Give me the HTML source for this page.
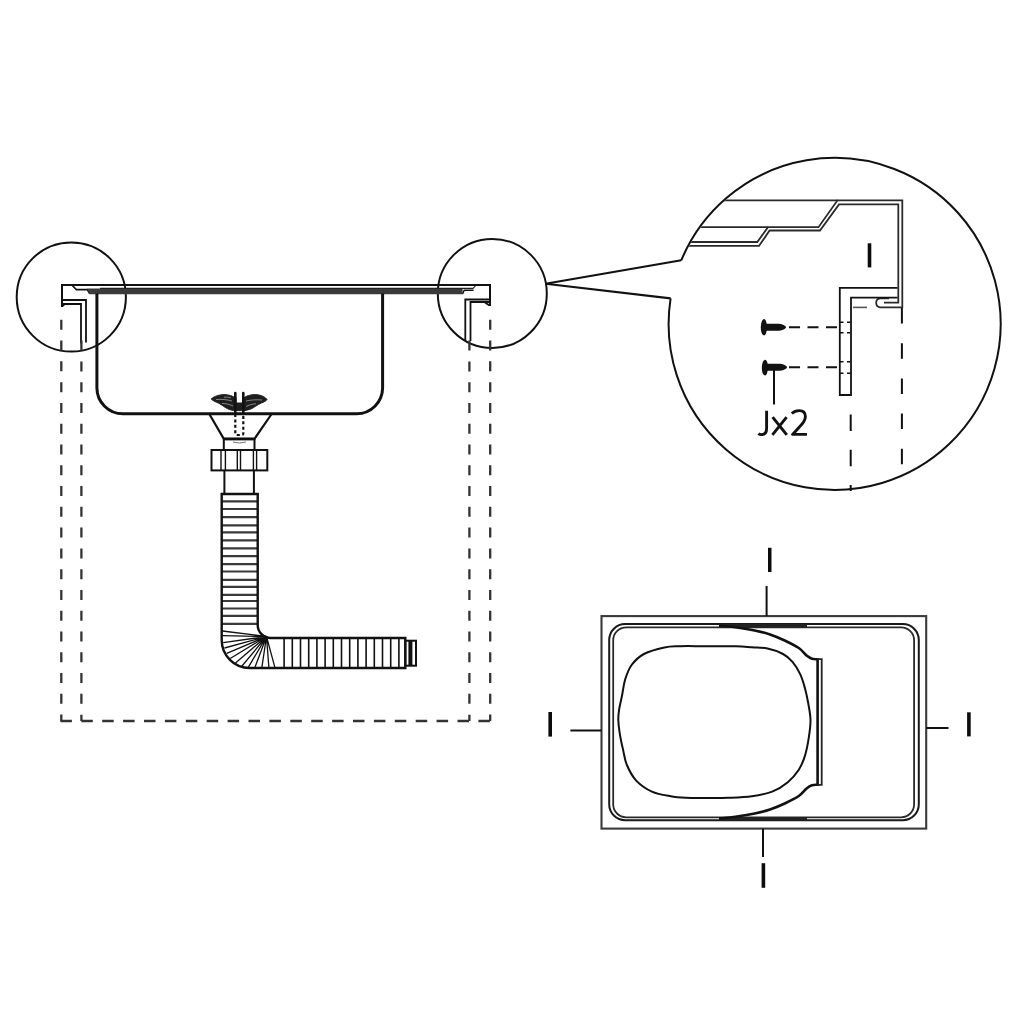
<!DOCTYPE html>
<html><head><meta charset="utf-8"><title>Sink diagram</title>
<style>
html,body{margin:0;padding:0;background:#fff;width:1024px;height:1024px;overflow:hidden}
svg{display:block}
text{font-family:"Liberation Sans",sans-serif}
</style></head>
<body>
<svg width="1024" height="1024" viewBox="0 0 1024 1024">
<defs>
<clipPath id="bigc"><circle cx="834.7" cy="323.6" r="165"/></clipPath>
</defs>
<rect width="1024" height="1024" fill="#fff"/>
<g fill="none" stroke="#111" stroke-width="2" stroke-linecap="butt" stroke-linejoin="miter">

<!-- ===== Cross-section (left) ===== -->
<circle cx="71.3" cy="297" r="54.6" stroke-width="2"/>
<circle cx="492.3" cy="293.4" r="54.5" stroke-width="2"/>

<!-- top rim -->
<path d="M62 307 V285 H490 V306"/>
<path d="M62.5 306 L65 303.8 M489.5 305.5 L485 302.5" stroke-width="1.8"/>
<path d="M63 300 H86 V342.5 M81 343.5 V304 H63" stroke-width="1.8"/>
<path d="M489 299.5 H465.3 V341 M470.5 341 V302 H489" stroke-width="1.8"/>
<path d="M72.3 285.5 L76.4 289.6 H87.3 L89.4 293.2 H96.9" stroke-width="1.6"/>
<path d="M87.3 288.6 H462.6 V294.3 H89.4 Z" fill="#3a3a3a" stroke="none"/>
<path d="M100 288.4 H473 L475.5 285.8" stroke-width="1.1" stroke="#222"/>
<path d="M462.6 294 L464.2 290.3 H473.5" stroke-width="1.4"/>
<!-- sink body -->
<path d="M96.9 293.5 V388 A26 26 0 0 0 122.9 413.8 H356.6 A26 26 0 0 0 382.6 388 V293.5" stroke-width="3"/>

<!-- dashed cabinet -->
<g stroke-width="2.3" stroke="#333" stroke-dasharray="10 10.78">
<path d="M61.3 319.8 V721"/>
<path d="M81.4 340.6 V721"/>
<path d="M469.4 340.6 V721"/>
<path d="M490.2 319.8 V721"/>
<path d="M60.4 721 H491" stroke-dasharray="11.5 9.4"/>
</g>

<!-- drain strainer -->
<path d="M211.2 399 C213 397 218 395 222.1 394.7 C226 394.4 230 395 233 396.5 L235 398 H244 L246 396.5 C249 395 253 394.4 257 394.7 C261 395 265 397 267.2 399.5 C266 401 264 402 261.7 402.8 C257 405 254 407.5 251.5 408.7 C248 410 245.5 410.6 243.3 410.6 H235.8 C233 410.6 230 410 227.6 408.7 C225 407.5 222 405 218.7 403.2 C216 402 213 401 211.2 399 Z" fill="#1e1e1e" stroke="#1e1e1e" stroke-width="1"/>
<path d="M216 399.6 C221 399 227 399.5 232 401 M222 403.5 C226 403.5 230 404.5 233 406 M262 400 C257 399.5 251 399.8 246 401 M256 403.8 C252 404 249 405 246 406.5 M224 397.2 C227 397 229 397.3 231 398" stroke="#fff" stroke-width="0.9" opacity="0.5"/>
<rect x="236.6" y="393" width="5.4" height="9.5" fill="#fff" stroke="none"/>
<path d="M235.3 393 V414 M243.3 393 V414" stroke-width="2.6" stroke-linecap="round"/>
<path d="M235.3 414 V433.5 Q235.3 435 237 435 H241.6 Q243.3 435 243.3 433.5 V414" stroke-width="2.2" stroke-dasharray="3 2.4"/>
<!-- funnel / nut -->
<path d="M209.3 414 L223.8 438.8 H254.5 L271.6 414" stroke-width="2.2"/>
<path d="M223.8 439 H254.5" stroke-width="2.8"/>
<path d="M233 442 Q239 444 246 442" stroke="#777" stroke-width="1"/>
<path d="M223.8 438.8 V450 M254.5 438.8 V450" stroke-width="2"/>
<rect x="211.5" y="450" width="55.8" height="20.4" stroke-width="2"/>
<path d="M221 450 V470.4 M225.4 450 V470.4 M237.3 450 V470.4 M240.5 450 V470.4 M253.4 450 V470.4 M256.6 450 V470.4" stroke-width="1.4"/>
<path d="M224.4 470.4 V494 M253.9 470.4 V494" stroke-width="2"/>

<!-- hose -->
<path d="M222 501.4H257.7 M222 509.0H257.7 M222 517.2H257.7 M222 525.4H257.7 M222 532.4H257.7 M222 540.3H257.7 M222 548.3H257.7 M222 556.2H257.7 M222 564.1H257.7 M222 571.5H257.7 M222 579.8H257.7 M222 586.9H257.7 M222 594.9H257.7 M222 601.0H257.7 M222 608.5H257.7 M222 615.9H257.7 M222 623.8H257.7" stroke-width="2.2" stroke="#3a3a3a"/>
<path d="M284.1 638V668 M292.3 638V668 M300.5 638V668 M308.7 638V668 M316.9 638V668 M325.1 638V668 M333.3 638V668 M341.5 638V668 M349.7 638V668 M357.9 638V668 M366.1 638V668 M374.3 638V668 M382.5 638V668 M390.7 638V668 M398.9 638V668" stroke-width="1.6"/>
<path d="M266.5 636.5L222.3 631.0 M266.5 636.5L222.3 635.7 M266.5 636.5L223.2 642.7 M266.5 636.5L224.5 648.0 M266.5 636.5L226.7 653.3 M266.5 636.5L230.2 658.5 M266.5 636.5L235.5 663.0 M266.5 636.5L241.6 666.5 M266.5 636.5L247.8 668.2 M266.5 636.5L254.8 667.8 M266.5 636.5L261.8 667.8 M266.5 636.5L268.9 667.8 M266.5 636.5L275.0 667.8" stroke-width="1.3"/>
<path d="M221.7 494 H257.7 V625 A13 13 0 0 0 270.7 638 H405.3 V668 H249.7 A28 28 0 0 1 221.7 640 Z" stroke-width="2.4"/>
<rect x="405.3" y="640.7" width="10.7" height="25" stroke-width="2"/>
<path d="M410.4 641 V665.5" stroke-width="4"/>
</g>

<!-- ===== Big detail circle ===== -->
<g fill="none" stroke="#111" stroke-width="2">
<path d="M681.3 260.3 A166 166 0 1 1 670.6 298.4"/>
<path d="M545.5 283.8 L681.3 260.3 M545.5 283.8 L670.6 298.4" stroke-width="2.1"/>
<g clip-path="url(#bigc)" stroke="#2a2a2a" stroke-width="1.8">
<path d="M650 242 H757.3 L768 227.2 H818.5 L837.5 200.3 H902.3 V307.3 H880 A4.5 4.5 0 0 1 880 298.4 H889"/>
<path d="M650 245.9 H759 L769.6 230.5 H820 L839 204.4 H898.3 V302.7 H884"/>
<path d="M650 227.2 H768 M650 200.3 H837.5"/>
</g>
<!-- bracket -->
<path d="M897.5 287.8 H839.8 V395 H851 V297.6 H897.5" stroke-width="1.8"/>
<path d="M853 307.4 H867" stroke-width="1.6" stroke="#555"/>
<path d="M840 322.3 H851 M840 332.8 H851 M840 361.7 H851 M840 373.3 H851" stroke-width="1.5" stroke-dasharray="3.5 3.5"/>
<!-- dashed verticals -->
<path d="M850.7 414.6 V491" stroke-width="2" stroke-dasharray="16.5 18.7"/>
<path d="M901.9 308 V466" stroke-width="2" stroke-dasharray="15.5 19.7"/>
<!-- screw dashes -->
<path d="M789 327.3 H839 M789 367.2 H839" stroke-width="2" stroke-dasharray="11 7.5"/>
<path d="M774 368 V404.5" stroke-width="2"/>
</g>
<!-- screws -->
<g fill="#111" stroke="none">
<path d="M764 319 C760 320 759.5 334 764 335.6 C766 335.6 767 330 767 327.3 C767 324 766 319 764 319 Z"/>
<path d="M766 323.8 H779 C783 324.3 786 326.3 786 327.3 C786 328.3 783 330.3 779 330.8 H766 Z"/>
<path d="M765 359.7 C761 360.7 760.5 374.5 765 375.5 C767 375.5 768 370 768 367.2 C768 364 767 359.7 765 359.7 Z"/>
<path d="M767 363.7 H780 C784 364.2 787 366.2 787 367.2 C787 368.2 784 370.2 780 370.7 H767 Z"/>
</g>
<!-- I glyph and Jx2 -->
<rect x="867.7" y="243.3" width="3.6" height="24.1" fill="#0c0c0c"/>
<path d="M766.6 410.8 V428.5 Q766.6 434.6 761.6 434.6 Q759.6 434.6 758.4 433.6 M772.6 417.2 L786.8 434.8 M786.6 417.2 L772.4 434.8 M791.8 413.6 Q794.6 410.6 799.2 410.6 Q805.4 410.6 805.4 416.6 Q805.4 421.2 799.6 426.8 L792.6 434.4 H807" fill="none" stroke="#111" stroke-width="2.9" stroke-linecap="butt" stroke-linejoin="round"/>

<!-- ===== Top view ===== -->
<g fill="none" stroke="#222" stroke-width="2">
<rect x="601.5" y="616.1" width="324.7" height="212.5" stroke="#3a3a3a" stroke-width="2.1"/>
<rect x="609.2" y="624" width="309.6" height="196.2" rx="16" stroke="#1a1a1a"/>
<rect x="613.2" y="627.4" width="300.9" height="189.9" rx="13" stroke="#2a2a2a" stroke-width="1.8"/>
<rect x="719" y="624" width="88" height="3.5" fill="#222" stroke="none"/>
<rect x="719" y="817" width="88" height="3.5" fill="#222" stroke="none"/>
<path d="M719.0 625.5 C722.0 625.8 731.0 626.7 737.0 627.5 C743.0 628.3 749.2 629.3 754.7 630.5 C760.2 631.7 765.0 632.8 770.0 634.5 C775.0 636.2 779.9 638.2 784.7 640.5 C789.5 642.8 795.1 645.5 798.8 648.0 C802.4 650.5 804.4 653.8 806.6 655.6 C808.8 657.4 810.2 658.2 812.0 658.8 C813.8 659.4 816.7 659.1 817.6 659.2 V784.8 C816.7 784.9 813.8 784.6 812.0 785.2 C810.2 785.8 808.8 786.6 806.6 788.4 C804.4 790.2 802.4 793.5 798.8 796.0 C795.1 798.5 789.5 801.2 784.7 803.5 C779.9 805.8 775.0 807.8 770.0 809.5 C765.0 811.2 760.2 812.3 754.7 813.5 C749.2 814.7 743.0 815.7 737.0 816.5 C731.0 817.3 722.0 818.2 719.0 818.5" stroke="#111" stroke-width="2.6"/>
<path d="M816.7 659.2 H821.7 V784.8 H816.7" stroke-width="1.8"/>
<path d="M705.0 646.2 C714.3 646.2 728.2 646.1 736.0 646.2 C743.8 646.4 746.8 646.9 752.0 647.3 C757.2 647.7 762.3 647.5 767.5 648.6 C772.7 649.7 778.8 651.8 783.0 654.0 C787.2 656.2 789.6 658.5 792.5 661.9 C795.4 665.3 798.2 670.0 800.3 674.4 C802.4 678.8 803.7 683.7 805.0 688.4 C806.3 693.1 807.2 697.3 808.1 702.5 C809.0 707.7 810.4 714.0 810.5 719.7 C810.6 725.4 809.8 730.9 808.9 736.9 C808.0 742.9 806.7 750.1 805.0 755.6 C803.3 761.1 801.6 765.3 798.8 769.7 C795.9 774.1 792.2 778.6 787.8 782.2 C783.4 785.9 778.2 789.3 772.2 791.6 C766.2 793.9 759.2 795.2 751.9 796.2 C744.6 797.3 736.2 797.5 728.4 797.8 C720.6 798.1 712.0 798.0 705.0 798.0 C698.0 798.0 692.0 798.1 686.2 797.8 C680.5 797.5 676.3 797.3 670.6 796.2 C664.9 795.2 657.6 794.2 651.9 791.6 C646.2 789.0 640.4 785.0 636.2 780.6 C632.1 776.2 629.1 770.2 626.9 765.0 C624.7 759.8 624.2 754.6 623.0 749.4 C621.8 744.2 620.6 738.7 619.8 733.8 C619.0 728.8 618.4 723.6 618.3 719.7 C618.2 715.8 618.4 714.5 619.0 710.3 C619.6 706.1 621.2 699.9 622.2 694.7 C623.2 689.5 623.7 684.0 625.3 679.0 C626.9 674.0 628.5 669.2 631.6 665.0 C634.7 660.8 638.5 656.9 644.0 654.0 C649.5 651.1 658.4 648.8 664.4 647.5 C670.4 646.2 673.2 646.5 680.0 646.2 C686.8 646.0 695.7 646.2 705.0 646.2Z" stroke="#111" stroke-width="2"/>
<!-- ticks -->
<path d="M766.6 586 V616 M763 828.6 V857 M570.4 730.6 H601.5 M926.2 728 H948.5" stroke="#111" stroke-width="2"/>
</g>
<g fill="#0c0c0c">
<rect x="768" y="547.8" width="3.5" height="24.2"/>
<rect x="761.6" y="863.2" width="3.6" height="24.6"/>
<rect x="548.4" y="712" width="3.6" height="24.6"/>
<rect x="967.1" y="712.3" width="3.6" height="24.1"/>
</g>
</svg>
</body></html>
